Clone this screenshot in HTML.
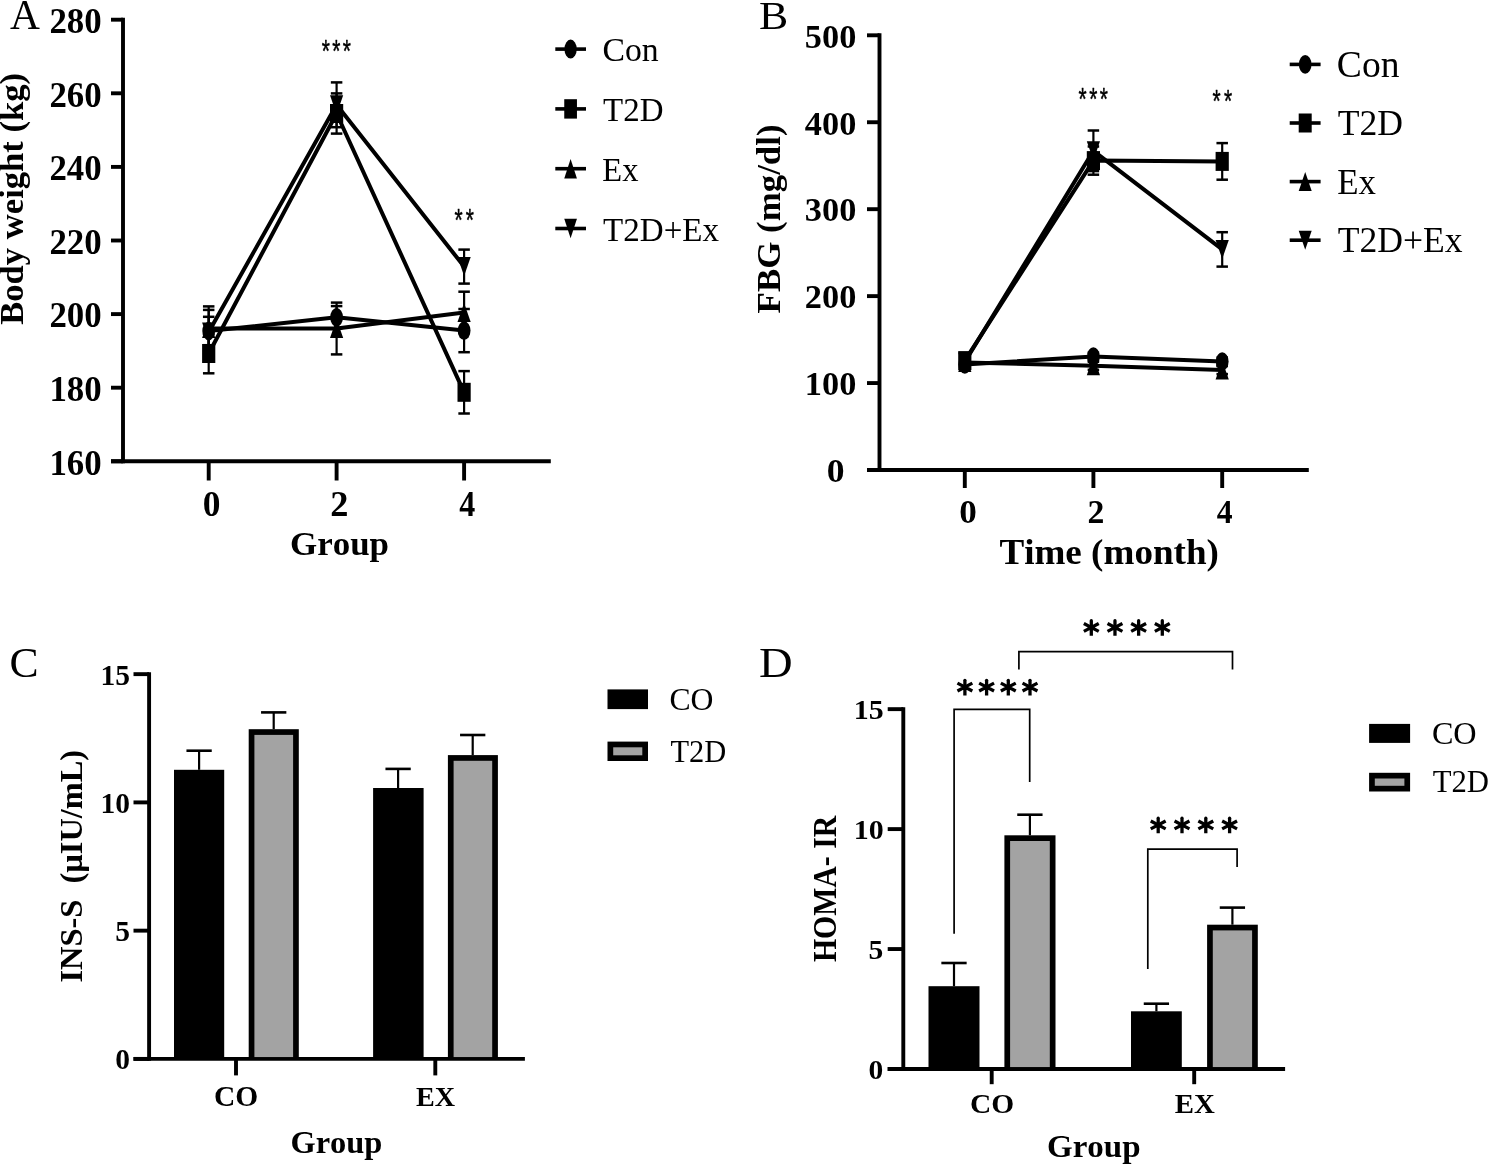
<!DOCTYPE html><html><head><meta charset="utf-8"><style>html,body{margin:0;padding:0;background:#fff;}svg{display:block;will-change:transform;}text{font-family:"Liberation Serif",serif;fill:#000;font-kerning:none;}</style></head><body>
<svg width="1489" height="1164" viewBox="0 0 1489 1164">
<rect width="1489" height="1164" fill="#fff"/>
<line x1="123.00" y1="17.75" x2="123.00" y2="463.25" stroke="#000" stroke-width="3.9" stroke-linecap="butt"/>
<line x1="111.00" y1="461.30" x2="123.00" y2="461.30" stroke="#000" stroke-width="3.9" stroke-linecap="butt"/>
<text x="101.60" y="474.50" font-size="34.8" font-weight="bold" text-anchor="end" >160</text>
<line x1="111.00" y1="387.70" x2="123.00" y2="387.70" stroke="#000" stroke-width="3.9" stroke-linecap="butt"/>
<text x="101.60" y="400.90" font-size="34.8" font-weight="bold" text-anchor="end" >180</text>
<line x1="111.00" y1="314.10" x2="123.00" y2="314.10" stroke="#000" stroke-width="3.9" stroke-linecap="butt"/>
<text x="101.60" y="327.30" font-size="34.8" font-weight="bold" text-anchor="end" >200</text>
<line x1="111.00" y1="240.50" x2="123.00" y2="240.50" stroke="#000" stroke-width="3.9" stroke-linecap="butt"/>
<text x="101.60" y="253.70" font-size="34.8" font-weight="bold" text-anchor="end" >220</text>
<line x1="111.00" y1="166.90" x2="123.00" y2="166.90" stroke="#000" stroke-width="3.9" stroke-linecap="butt"/>
<text x="101.60" y="180.10" font-size="34.8" font-weight="bold" text-anchor="end" >240</text>
<line x1="111.00" y1="93.30" x2="123.00" y2="93.30" stroke="#000" stroke-width="3.9" stroke-linecap="butt"/>
<text x="101.60" y="106.50" font-size="34.8" font-weight="bold" text-anchor="end" >260</text>
<line x1="111.00" y1="19.70" x2="123.00" y2="19.70" stroke="#000" stroke-width="3.9" stroke-linecap="butt"/>
<text x="101.60" y="32.90" font-size="34.8" font-weight="bold" text-anchor="end" >280</text>
<line x1="111.00" y1="461.30" x2="550.80" y2="461.30" stroke="#000" stroke-width="3.9" stroke-linecap="butt"/>
<line x1="208.70" y1="461.30" x2="208.70" y2="480.50" stroke="#000" stroke-width="3.9" stroke-linecap="butt"/>
<line x1="336.60" y1="461.30" x2="336.60" y2="480.50" stroke="#000" stroke-width="3.9" stroke-linecap="butt"/>
<line x1="464.10" y1="461.30" x2="464.10" y2="480.50" stroke="#000" stroke-width="3.9" stroke-linecap="butt"/>
<text x="202.65" y="516.05" font-size="34.8" font-weight="bold" textLength="17.70" lengthAdjust="spacingAndGlyphs">0</text>
<text x="330.17" y="516.20" font-size="34.8" font-weight="bold" textLength="18.19" lengthAdjust="spacingAndGlyphs">2</text>
<text x="459.16" y="516.20" font-size="34.8" font-weight="bold" textLength="16.03" lengthAdjust="spacingAndGlyphs">4</text>
<text x="289.99" y="554.70" font-size="34" font-weight="bold" textLength="99.02" lengthAdjust="spacingAndGlyphs">Group</text>
<text x="22.80" y="324.77" font-size="34.3" font-weight="bold" textLength="251.90" lengthAdjust="spacingAndGlyphs" transform="rotate(-90 22.80 324.77)">Body weight (kg)</text>
<text x="9.90" y="28.90" font-size="43" font-weight="normal" textLength="29.91" lengthAdjust="spacingAndGlyphs">A</text>
<line x1="208.70" y1="316.80" x2="208.70" y2="345.20" stroke="#000" stroke-width="2.2" stroke-linecap="butt"/>
<line x1="202.95" y1="316.80" x2="214.45" y2="316.80" stroke="#000" stroke-width="2.5" stroke-linecap="butt"/>
<line x1="202.95" y1="345.20" x2="214.45" y2="345.20" stroke="#000" stroke-width="2.5" stroke-linecap="butt"/>
<line x1="336.60" y1="306.10" x2="336.60" y2="328.50" stroke="#000" stroke-width="2.2" stroke-linecap="butt"/>
<line x1="330.85" y1="306.10" x2="342.35" y2="306.10" stroke="#000" stroke-width="2.5" stroke-linecap="butt"/>
<line x1="330.85" y1="328.50" x2="342.35" y2="328.50" stroke="#000" stroke-width="2.5" stroke-linecap="butt"/>
<line x1="464.10" y1="309.00" x2="464.10" y2="352.20" stroke="#000" stroke-width="2.2" stroke-linecap="butt"/>
<line x1="458.35" y1="309.00" x2="469.85" y2="309.00" stroke="#000" stroke-width="2.5" stroke-linecap="butt"/>
<line x1="458.35" y1="352.20" x2="469.85" y2="352.20" stroke="#000" stroke-width="2.5" stroke-linecap="butt"/>
<line x1="208.70" y1="333.70" x2="208.70" y2="373.30" stroke="#000" stroke-width="2.2" stroke-linecap="butt"/>
<line x1="202.95" y1="333.70" x2="214.45" y2="333.70" stroke="#000" stroke-width="2.5" stroke-linecap="butt"/>
<line x1="202.95" y1="373.30" x2="214.45" y2="373.30" stroke="#000" stroke-width="2.5" stroke-linecap="butt"/>
<line x1="336.60" y1="93.40" x2="336.60" y2="133.60" stroke="#000" stroke-width="2.2" stroke-linecap="butt"/>
<line x1="330.85" y1="93.40" x2="342.35" y2="93.40" stroke="#000" stroke-width="2.5" stroke-linecap="butt"/>
<line x1="330.85" y1="133.60" x2="342.35" y2="133.60" stroke="#000" stroke-width="2.5" stroke-linecap="butt"/>
<line x1="464.10" y1="371.10" x2="464.10" y2="413.50" stroke="#000" stroke-width="2.2" stroke-linecap="butt"/>
<line x1="458.35" y1="371.10" x2="469.85" y2="371.10" stroke="#000" stroke-width="2.5" stroke-linecap="butt"/>
<line x1="458.35" y1="413.50" x2="469.85" y2="413.50" stroke="#000" stroke-width="2.5" stroke-linecap="butt"/>
<line x1="208.70" y1="306.40" x2="208.70" y2="350.60" stroke="#000" stroke-width="2.2" stroke-linecap="butt"/>
<line x1="202.95" y1="306.40" x2="214.45" y2="306.40" stroke="#000" stroke-width="2.5" stroke-linecap="butt"/>
<line x1="202.95" y1="350.60" x2="214.45" y2="350.60" stroke="#000" stroke-width="2.5" stroke-linecap="butt"/>
<line x1="336.60" y1="302.60" x2="336.60" y2="354.40" stroke="#000" stroke-width="2.2" stroke-linecap="butt"/>
<line x1="330.85" y1="302.60" x2="342.35" y2="302.60" stroke="#000" stroke-width="2.5" stroke-linecap="butt"/>
<line x1="330.85" y1="354.40" x2="342.35" y2="354.40" stroke="#000" stroke-width="2.5" stroke-linecap="butt"/>
<line x1="464.10" y1="291.70" x2="464.10" y2="333.10" stroke="#000" stroke-width="2.2" stroke-linecap="butt"/>
<line x1="458.35" y1="291.70" x2="469.85" y2="291.70" stroke="#000" stroke-width="2.5" stroke-linecap="butt"/>
<line x1="458.35" y1="333.10" x2="469.85" y2="333.10" stroke="#000" stroke-width="2.5" stroke-linecap="butt"/>
<line x1="208.70" y1="309.90" x2="208.70" y2="354.10" stroke="#000" stroke-width="2.2" stroke-linecap="butt"/>
<line x1="202.95" y1="309.90" x2="214.45" y2="309.90" stroke="#000" stroke-width="2.5" stroke-linecap="butt"/>
<line x1="202.95" y1="354.10" x2="214.45" y2="354.10" stroke="#000" stroke-width="2.5" stroke-linecap="butt"/>
<line x1="336.60" y1="82.40" x2="336.60" y2="127.20" stroke="#000" stroke-width="2.2" stroke-linecap="butt"/>
<line x1="330.85" y1="82.40" x2="342.35" y2="82.40" stroke="#000" stroke-width="2.5" stroke-linecap="butt"/>
<line x1="330.85" y1="127.20" x2="342.35" y2="127.20" stroke="#000" stroke-width="2.5" stroke-linecap="butt"/>
<line x1="464.10" y1="249.60" x2="464.10" y2="283.60" stroke="#000" stroke-width="2.2" stroke-linecap="butt"/>
<line x1="458.35" y1="249.60" x2="469.85" y2="249.60" stroke="#000" stroke-width="2.5" stroke-linecap="butt"/>
<line x1="458.35" y1="283.60" x2="469.85" y2="283.60" stroke="#000" stroke-width="2.5" stroke-linecap="butt"/>
<polyline points="208.70,331.00 336.60,317.30 464.10,330.60" fill="none" stroke="#000" stroke-width="4" stroke-linejoin="round"/>
<polyline points="208.70,353.50 336.60,113.50 464.10,392.30" fill="none" stroke="#000" stroke-width="4" stroke-linejoin="round"/>
<polyline points="208.70,328.50 336.60,328.50 464.10,312.40" fill="none" stroke="#000" stroke-width="4" stroke-linejoin="round"/>
<polyline points="208.70,332.00 336.60,104.80 464.10,266.60" fill="none" stroke="#000" stroke-width="4" stroke-linejoin="round"/>
<ellipse cx="208.70" cy="331.00" rx="6.40" ry="9.30"/>
<ellipse cx="336.60" cy="317.30" rx="6.40" ry="9.30"/>
<ellipse cx="464.10" cy="330.60" rx="6.40" ry="9.30"/>
<rect x="202.10" y="344.00" width="13.20" height="19.00"/>
<rect x="330.00" y="104.00" width="13.20" height="19.00"/>
<rect x="457.50" y="382.80" width="13.20" height="19.00"/>
<path d="M208.70 319.00L215.30 338.00L202.10 338.00Z"/>
<path d="M336.60 319.00L343.20 338.00L330.00 338.00Z"/>
<path d="M464.10 302.90L470.70 321.90L457.50 321.90Z"/>
<path d="M202.10 322.50L215.30 322.50L208.70 341.50Z"/>
<path d="M330.00 95.30L343.20 95.30L336.60 114.30Z"/>
<path d="M457.50 257.10L470.70 257.10L464.10 276.10Z"/>
<line x1="555.30" y1="49.10" x2="586.00" y2="49.10" stroke="#000" stroke-width="3.6" stroke-linecap="butt"/>
<ellipse cx="570.60" cy="49.10" rx="6.15" ry="9.50"/>
<line x1="555.30" y1="108.90" x2="586.00" y2="108.90" stroke="#000" stroke-width="3.6" stroke-linecap="butt"/>
<rect x="564.25" y="99.20" width="12.70" height="19.40"/>
<line x1="555.30" y1="168.70" x2="586.00" y2="168.70" stroke="#000" stroke-width="3.6" stroke-linecap="butt"/>
<path d="M570.60 159.00L576.95 178.40L564.25 178.40Z"/>
<line x1="555.30" y1="228.50" x2="586.00" y2="228.50" stroke="#000" stroke-width="3.6" stroke-linecap="butt"/>
<path d="M564.25 218.80L576.95 218.80L570.60 238.20Z"/>
<text x="602.41" y="61.00" font-size="34.4" font-weight="normal" textLength="56.30" lengthAdjust="spacingAndGlyphs">Con</text>
<text x="603.10" y="121.30" font-size="34.4" font-weight="normal" textLength="60.42" lengthAdjust="spacingAndGlyphs">T2D</text>
<text x="602.36" y="181.00" font-size="34.4" font-weight="normal" textLength="36.13" lengthAdjust="spacingAndGlyphs">Ex</text>
<text x="603.10" y="241.20" font-size="34.4" font-weight="normal" textLength="115.90" lengthAdjust="spacingAndGlyphs">T2D+Ex</text>
<line x1="879.50" y1="33.35" x2="879.50" y2="471.95" stroke="#000" stroke-width="3.9" stroke-linecap="butt"/>
<line x1="867.00" y1="470.00" x2="879.50" y2="470.00" stroke="#000" stroke-width="3.9" stroke-linecap="butt"/>
<line x1="867.00" y1="383.06" x2="879.50" y2="383.06" stroke="#000" stroke-width="3.9" stroke-linecap="butt"/>
<text x="856.30" y="395.36" font-size="34.3" font-weight="bold" text-anchor="end" >100</text>
<line x1="867.00" y1="296.12" x2="879.50" y2="296.12" stroke="#000" stroke-width="3.9" stroke-linecap="butt"/>
<text x="856.30" y="308.42" font-size="34.3" font-weight="bold" text-anchor="end" >200</text>
<line x1="867.00" y1="209.18" x2="879.50" y2="209.18" stroke="#000" stroke-width="3.9" stroke-linecap="butt"/>
<text x="856.30" y="221.48" font-size="34.3" font-weight="bold" text-anchor="end" >300</text>
<line x1="867.00" y1="122.24" x2="879.50" y2="122.24" stroke="#000" stroke-width="3.9" stroke-linecap="butt"/>
<text x="856.30" y="134.54" font-size="34.3" font-weight="bold" text-anchor="end" >400</text>
<line x1="867.00" y1="35.30" x2="879.50" y2="35.30" stroke="#000" stroke-width="3.9" stroke-linecap="butt"/>
<text x="856.30" y="47.60" font-size="34.3" font-weight="bold" text-anchor="end" >500</text>
<text x="826.84" y="482.30" font-size="34.3" font-weight="bold" textLength="17.81" lengthAdjust="spacingAndGlyphs">0</text>
<line x1="867.00" y1="470.00" x2="1308.80" y2="470.00" stroke="#000" stroke-width="3.9" stroke-linecap="butt"/>
<line x1="964.80" y1="470.00" x2="964.80" y2="488.00" stroke="#000" stroke-width="3.9" stroke-linecap="butt"/>
<line x1="1093.40" y1="470.00" x2="1093.40" y2="488.00" stroke="#000" stroke-width="3.9" stroke-linecap="butt"/>
<line x1="1222.20" y1="470.00" x2="1222.20" y2="488.00" stroke="#000" stroke-width="3.9" stroke-linecap="butt"/>
<text x="959.36" y="523.15" font-size="34.3" font-weight="bold" textLength="17.58" lengthAdjust="spacingAndGlyphs">0</text>
<text x="1087.38" y="522.50" font-size="34.3" font-weight="bold" textLength="16.87" lengthAdjust="spacingAndGlyphs">2</text>
<text x="1216.77" y="522.50" font-size="34.3" font-weight="bold" textLength="15.82" lengthAdjust="spacingAndGlyphs">4</text>
<text x="999.42" y="563.80" font-size="36.2" font-weight="bold" textLength="219.51" lengthAdjust="spacingAndGlyphs">Time (month)</text>
<text x="779.80" y="313.40" font-size="34.5" font-weight="bold" textLength="188.93" lengthAdjust="spacingAndGlyphs" transform="rotate(-90 779.80 313.40)">FBG (mg/dl)</text>
<text x="759.04" y="28.60" font-size="40.6" font-weight="normal" textLength="29.20" lengthAdjust="spacingAndGlyphs">B</text>
<line x1="964.80" y1="360.50" x2="964.80" y2="368.50" stroke="#000" stroke-width="2.2" stroke-linecap="butt"/>
<line x1="959.05" y1="360.50" x2="970.55" y2="360.50" stroke="#000" stroke-width="2.5" stroke-linecap="butt"/>
<line x1="959.05" y1="368.50" x2="970.55" y2="368.50" stroke="#000" stroke-width="2.5" stroke-linecap="butt"/>
<line x1="1093.40" y1="352.60" x2="1093.40" y2="360.60" stroke="#000" stroke-width="2.2" stroke-linecap="butt"/>
<line x1="1087.65" y1="352.60" x2="1099.15" y2="352.60" stroke="#000" stroke-width="2.5" stroke-linecap="butt"/>
<line x1="1087.65" y1="360.60" x2="1099.15" y2="360.60" stroke="#000" stroke-width="2.5" stroke-linecap="butt"/>
<line x1="1222.20" y1="357.50" x2="1222.20" y2="365.50" stroke="#000" stroke-width="2.2" stroke-linecap="butt"/>
<line x1="1216.45" y1="357.50" x2="1227.95" y2="357.50" stroke="#000" stroke-width="2.5" stroke-linecap="butt"/>
<line x1="1216.45" y1="365.50" x2="1227.95" y2="365.50" stroke="#000" stroke-width="2.5" stroke-linecap="butt"/>
<line x1="964.80" y1="356.60" x2="964.80" y2="364.60" stroke="#000" stroke-width="2.2" stroke-linecap="butt"/>
<line x1="959.05" y1="356.60" x2="970.55" y2="356.60" stroke="#000" stroke-width="2.5" stroke-linecap="butt"/>
<line x1="959.05" y1="364.60" x2="970.55" y2="364.60" stroke="#000" stroke-width="2.5" stroke-linecap="butt"/>
<line x1="1093.40" y1="146.50" x2="1093.40" y2="174.70" stroke="#000" stroke-width="2.2" stroke-linecap="butt"/>
<line x1="1087.65" y1="146.50" x2="1099.15" y2="146.50" stroke="#000" stroke-width="2.5" stroke-linecap="butt"/>
<line x1="1087.65" y1="174.70" x2="1099.15" y2="174.70" stroke="#000" stroke-width="2.5" stroke-linecap="butt"/>
<line x1="1222.20" y1="143.10" x2="1222.20" y2="179.70" stroke="#000" stroke-width="2.2" stroke-linecap="butt"/>
<line x1="1216.45" y1="143.10" x2="1227.95" y2="143.10" stroke="#000" stroke-width="2.5" stroke-linecap="butt"/>
<line x1="1216.45" y1="179.70" x2="1227.95" y2="179.70" stroke="#000" stroke-width="2.5" stroke-linecap="butt"/>
<line x1="964.80" y1="358.50" x2="964.80" y2="366.50" stroke="#000" stroke-width="2.2" stroke-linecap="butt"/>
<line x1="959.05" y1="358.50" x2="970.55" y2="358.50" stroke="#000" stroke-width="2.5" stroke-linecap="butt"/>
<line x1="959.05" y1="366.50" x2="970.55" y2="366.50" stroke="#000" stroke-width="2.5" stroke-linecap="butt"/>
<line x1="1093.40" y1="361.80" x2="1093.40" y2="369.80" stroke="#000" stroke-width="2.2" stroke-linecap="butt"/>
<line x1="1087.65" y1="361.80" x2="1099.15" y2="361.80" stroke="#000" stroke-width="2.5" stroke-linecap="butt"/>
<line x1="1087.65" y1="369.80" x2="1099.15" y2="369.80" stroke="#000" stroke-width="2.5" stroke-linecap="butt"/>
<line x1="1222.20" y1="366.10" x2="1222.20" y2="374.10" stroke="#000" stroke-width="2.2" stroke-linecap="butt"/>
<line x1="1216.45" y1="366.10" x2="1227.95" y2="366.10" stroke="#000" stroke-width="2.5" stroke-linecap="butt"/>
<line x1="1216.45" y1="374.10" x2="1227.95" y2="374.10" stroke="#000" stroke-width="2.5" stroke-linecap="butt"/>
<line x1="964.80" y1="358.00" x2="964.80" y2="366.00" stroke="#000" stroke-width="2.2" stroke-linecap="butt"/>
<line x1="959.05" y1="358.00" x2="970.55" y2="358.00" stroke="#000" stroke-width="2.5" stroke-linecap="butt"/>
<line x1="959.05" y1="366.00" x2="970.55" y2="366.00" stroke="#000" stroke-width="2.5" stroke-linecap="butt"/>
<line x1="1093.40" y1="130.50" x2="1093.40" y2="171.10" stroke="#000" stroke-width="2.2" stroke-linecap="butt"/>
<line x1="1087.65" y1="130.50" x2="1099.15" y2="130.50" stroke="#000" stroke-width="2.5" stroke-linecap="butt"/>
<line x1="1087.65" y1="171.10" x2="1099.15" y2="171.10" stroke="#000" stroke-width="2.5" stroke-linecap="butt"/>
<line x1="1222.20" y1="232.20" x2="1222.20" y2="266.60" stroke="#000" stroke-width="2.2" stroke-linecap="butt"/>
<line x1="1216.45" y1="232.20" x2="1227.95" y2="232.20" stroke="#000" stroke-width="2.5" stroke-linecap="butt"/>
<line x1="1216.45" y1="266.60" x2="1227.95" y2="266.60" stroke="#000" stroke-width="2.5" stroke-linecap="butt"/>
<polyline points="964.80,364.50 1093.40,356.60 1222.20,361.50" fill="none" stroke="#000" stroke-width="4" stroke-linejoin="round"/>
<polyline points="964.80,360.60 1093.40,160.60 1222.20,161.40" fill="none" stroke="#000" stroke-width="4" stroke-linejoin="round"/>
<polyline points="964.80,362.50 1093.40,365.80 1222.20,370.10" fill="none" stroke="#000" stroke-width="4" stroke-linejoin="round"/>
<polyline points="964.80,362.00 1093.40,150.80 1222.20,249.40" fill="none" stroke="#000" stroke-width="4" stroke-linejoin="round"/>
<ellipse cx="964.80" cy="364.50" rx="6.40" ry="9.30"/>
<ellipse cx="1093.40" cy="356.60" rx="6.40" ry="9.30"/>
<ellipse cx="1222.20" cy="361.50" rx="6.40" ry="9.30"/>
<rect x="958.20" y="351.10" width="13.20" height="19.00"/>
<rect x="1086.80" y="151.10" width="13.20" height="19.00"/>
<rect x="1215.60" y="151.90" width="13.20" height="19.00"/>
<path d="M964.80 353.00L971.40 372.00L958.20 372.00Z"/>
<path d="M1093.40 356.30L1100.00 375.30L1086.80 375.30Z"/>
<path d="M1222.20 360.60L1228.80 379.60L1215.60 379.60Z"/>
<path d="M958.20 352.50L971.40 352.50L964.80 371.50Z"/>
<path d="M1086.80 141.30L1100.00 141.30L1093.40 160.30Z"/>
<path d="M1215.60 239.90L1228.80 239.90L1222.20 258.90Z"/>
<line x1="1289.70" y1="64.40" x2="1320.60" y2="64.40" stroke="#000" stroke-width="3.6" stroke-linecap="butt"/>
<ellipse cx="1305.20" cy="64.40" rx="6.30" ry="9.30"/>
<line x1="1289.70" y1="123.00" x2="1320.60" y2="123.00" stroke="#000" stroke-width="3.6" stroke-linecap="butt"/>
<rect x="1298.70" y="113.50" width="13.00" height="19.00"/>
<line x1="1289.70" y1="181.60" x2="1320.60" y2="181.60" stroke="#000" stroke-width="3.6" stroke-linecap="butt"/>
<path d="M1305.20 172.10L1311.70 191.10L1298.70 191.10Z"/>
<line x1="1289.70" y1="240.20" x2="1320.60" y2="240.20" stroke="#000" stroke-width="3.6" stroke-linecap="butt"/>
<path d="M1298.70 230.70L1311.70 230.70L1305.20 249.70Z"/>
<text x="1336.86" y="77.00" font-size="37.5" font-weight="normal" textLength="62.61" lengthAdjust="spacingAndGlyphs">Con</text>
<text x="1337.76" y="134.90" font-size="36.5" font-weight="normal" textLength="65.27" lengthAdjust="spacingAndGlyphs">T2D</text>
<text x="1337.30" y="194.30" font-size="36.5" font-weight="normal" textLength="38.73" lengthAdjust="spacingAndGlyphs">Ex</text>
<text x="1337.66" y="252.20" font-size="36.5" font-weight="normal" textLength="124.98" lengthAdjust="spacingAndGlyphs">T2D+Ex</text>
<line x1="149.10" y1="672.20" x2="149.10" y2="1060.85" stroke="#000" stroke-width="3.9" stroke-linecap="butt"/>
<line x1="133.50" y1="1058.90" x2="149.10" y2="1058.90" stroke="#000" stroke-width="3.9" stroke-linecap="butt"/>
<text x="130.12" y="1069.35" font-size="29.5" font-weight="bold" text-anchor="end" >0</text>
<line x1="133.50" y1="930.65" x2="149.10" y2="930.65" stroke="#000" stroke-width="3.9" stroke-linecap="butt"/>
<text x="130.12" y="941.10" font-size="29.5" font-weight="bold" text-anchor="end" >5</text>
<line x1="133.50" y1="802.40" x2="149.10" y2="802.40" stroke="#000" stroke-width="3.9" stroke-linecap="butt"/>
<text x="130.12" y="812.85" font-size="29.5" font-weight="bold" text-anchor="end" >10</text>
<line x1="133.50" y1="674.15" x2="149.10" y2="674.15" stroke="#000" stroke-width="3.9" stroke-linecap="butt"/>
<text x="130.12" y="684.60" font-size="29.5" font-weight="bold" text-anchor="end" >15</text>
<line x1="133.50" y1="1058.90" x2="524.90" y2="1058.90" stroke="#000" stroke-width="3.9" stroke-linecap="butt"/>
<line x1="236.00" y1="1058.90" x2="236.00" y2="1075.40" stroke="#000" stroke-width="3.9" stroke-linecap="butt"/>
<line x1="435.30" y1="1058.90" x2="435.30" y2="1075.40" stroke="#000" stroke-width="3.9" stroke-linecap="butt"/>
<text x="214.06" y="1106.20" font-size="29" font-weight="bold" textLength="44.28" lengthAdjust="spacingAndGlyphs">CO</text>
<text x="416.02" y="1105.80" font-size="28" font-weight="bold" textLength="39.11" lengthAdjust="spacingAndGlyphs">EX</text>
<text x="290.42" y="1153.00" font-size="31.4" font-weight="bold" textLength="91.90" lengthAdjust="spacingAndGlyphs">Group</text>
<text x="82.50" y="982.49" font-size="32" font-weight="bold" textLength="232.61" lengthAdjust="spacingAndGlyphs" transform="rotate(-90 82.50 982.49)">INS-S&#160; (µIU/mL)</text>
<text x="9.41" y="677.40" font-size="43" font-weight="normal" textLength="29.10" lengthAdjust="spacingAndGlyphs">C</text>
<rect x="174.00" y="769.80" width="50.20" height="289.20" fill="#000"/>
<line x1="199.10" y1="750.70" x2="199.10" y2="769.80" stroke="#000" stroke-width="2.2" stroke-linecap="butt"/>
<line x1="186.45" y1="750.70" x2="211.75" y2="750.70" stroke="#000" stroke-width="2.6" stroke-linecap="butt"/>
<rect x="248.70" y="729.20" width="50.10" height="329.80" fill="#000"/>
<rect x="254.40" y="734.90" width="38.70" height="322.15" fill="#a3a3a3"/>
<line x1="273.70" y1="712.40" x2="273.70" y2="729.20" stroke="#000" stroke-width="2.2" stroke-linecap="butt"/>
<line x1="261.05" y1="712.40" x2="286.35" y2="712.40" stroke="#000" stroke-width="2.6" stroke-linecap="butt"/>
<rect x="373.10" y="788.00" width="50.50" height="271.00" fill="#000"/>
<line x1="398.10" y1="768.90" x2="398.10" y2="788.00" stroke="#000" stroke-width="2.2" stroke-linecap="butt"/>
<line x1="385.45" y1="768.90" x2="410.75" y2="768.90" stroke="#000" stroke-width="2.6" stroke-linecap="butt"/>
<rect x="447.90" y="755.10" width="50.00" height="303.90" fill="#000"/>
<rect x="453.60" y="760.80" width="38.60" height="296.25" fill="#a3a3a3"/>
<line x1="472.70" y1="735.00" x2="472.70" y2="755.10" stroke="#000" stroke-width="2.2" stroke-linecap="butt"/>
<line x1="460.05" y1="735.00" x2="485.35" y2="735.00" stroke="#000" stroke-width="2.6" stroke-linecap="butt"/>
<rect x="607.5" y="689.4" width="40.5" height="19.7" fill="#000"/>
<rect x="610.35" y="744.45" width="34.80" height="13.70" fill="#a3a3a3" stroke="#000" stroke-width="5.7"/>
<text x="669.40" y="710.30" font-size="32" font-weight="normal" textLength="44.00" lengthAdjust="spacingAndGlyphs">CO</text>
<text x="670.45" y="761.80" font-size="31.5" font-weight="normal" textLength="55.77" lengthAdjust="spacingAndGlyphs">T2D</text>
<line x1="903.30" y1="707.20" x2="903.30" y2="1070.95" stroke="#000" stroke-width="3.9" stroke-linecap="butt"/>
<line x1="887.70" y1="1069.00" x2="903.30" y2="1069.00" stroke="#000" stroke-width="3.9" stroke-linecap="butt"/>
<line x1="887.70" y1="949.05" x2="903.30" y2="949.05" stroke="#000" stroke-width="3.9" stroke-linecap="butt"/>
<line x1="887.70" y1="829.10" x2="903.30" y2="829.10" stroke="#000" stroke-width="3.9" stroke-linecap="butt"/>
<line x1="887.70" y1="709.15" x2="903.30" y2="709.15" stroke="#000" stroke-width="3.9" stroke-linecap="butt"/>
<text x="853.81" y="719.10" font-size="27.5" font-weight="bold" textLength="29.89" lengthAdjust="spacingAndGlyphs">15</text>
<text x="853.80" y="839.00" font-size="27.5" font-weight="bold" textLength="29.94" lengthAdjust="spacingAndGlyphs">10</text>
<text x="868.42" y="959.20" font-size="27.5" font-weight="bold" textLength="14.76" lengthAdjust="spacingAndGlyphs">5</text>
<text x="868.48" y="1078.60" font-size="27.5" font-weight="bold" textLength="14.75" lengthAdjust="spacingAndGlyphs">0</text>
<line x1="887.70" y1="1069.00" x2="1285.10" y2="1069.00" stroke="#000" stroke-width="3.9" stroke-linecap="butt"/>
<line x1="991.70" y1="1069.00" x2="991.70" y2="1084.20" stroke="#000" stroke-width="3.9" stroke-linecap="butt"/>
<line x1="1194.20" y1="1069.00" x2="1194.20" y2="1084.20" stroke="#000" stroke-width="3.9" stroke-linecap="butt"/>
<text x="969.96" y="1113.20" font-size="28" font-weight="bold" textLength="44.18" lengthAdjust="spacingAndGlyphs">CO</text>
<text x="1174.71" y="1112.90" font-size="27" font-weight="bold" textLength="40.03" lengthAdjust="spacingAndGlyphs">EX</text>
<text x="1046.99" y="1157.20" font-size="31" font-weight="bold" textLength="93.65" lengthAdjust="spacingAndGlyphs">Group</text>
<text x="836.30" y="962.11" font-size="33" font-weight="bold" textLength="146.35" lengthAdjust="spacingAndGlyphs" transform="rotate(-90 836.30 962.11)">HOMA- IR</text>
<text x="758.96" y="676.90" font-size="41.7" font-weight="normal" textLength="33.60" lengthAdjust="spacingAndGlyphs">D</text>
<rect x="928.50" y="986.20" width="51.00" height="82.80" fill="#000"/>
<line x1="954.00" y1="963.00" x2="954.00" y2="986.20" stroke="#000" stroke-width="2.2" stroke-linecap="butt"/>
<line x1="941.35" y1="963.00" x2="966.65" y2="963.00" stroke="#000" stroke-width="2.6" stroke-linecap="butt"/>
<rect x="1004.40" y="835.30" width="51.10" height="233.70" fill="#000"/>
<rect x="1010.10" y="841.00" width="39.70" height="226.05" fill="#a3a3a3"/>
<line x1="1029.90" y1="814.70" x2="1029.90" y2="835.30" stroke="#000" stroke-width="2.2" stroke-linecap="butt"/>
<line x1="1017.25" y1="814.70" x2="1042.55" y2="814.70" stroke="#000" stroke-width="2.6" stroke-linecap="butt"/>
<rect x="1131.00" y="1011.30" width="50.80" height="57.70" fill="#000"/>
<line x1="1156.40" y1="1003.70" x2="1156.40" y2="1011.30" stroke="#000" stroke-width="2.2" stroke-linecap="butt"/>
<line x1="1143.75" y1="1003.70" x2="1169.05" y2="1003.70" stroke="#000" stroke-width="2.6" stroke-linecap="butt"/>
<rect x="1207.10" y="924.70" width="50.70" height="144.30" fill="#000"/>
<rect x="1212.80" y="930.40" width="39.30" height="136.65" fill="#a3a3a3"/>
<line x1="1232.40" y1="907.60" x2="1232.40" y2="924.70" stroke="#000" stroke-width="2.2" stroke-linecap="butt"/>
<line x1="1219.75" y1="907.60" x2="1245.05" y2="907.60" stroke="#000" stroke-width="2.6" stroke-linecap="butt"/>
<path d="M954.10 933.70 L954.10 709.30 L1029.70 709.30 L1029.70 782.00" fill="none" stroke="#000" stroke-width="1.7"/>
<path d="M1018.90 669.40 L1018.90 651.70 L1232.50 651.70 L1232.50 669.40" fill="none" stroke="#000" stroke-width="1.7"/>
<path d="M1147.80 969.10 L1147.80 849.10 L1237.10 849.10 L1237.10 867.00" fill="none" stroke="#000" stroke-width="1.7"/>
<path d="M957.45 683.09L972.35 691.01M957.45 691.01L972.35 683.09M964.90 687.05L964.90 695.45" stroke="#000" stroke-width="3.3" fill="none"/>
<path d="M964.90 687.05L964.90 680.30" stroke="#000" stroke-width="3.3" stroke-linecap="round" fill="none"/>
<path d="M979.15 683.09L994.05 691.01M979.15 691.01L994.05 683.09M986.60 687.05L986.60 695.45" stroke="#000" stroke-width="3.3" fill="none"/>
<path d="M986.60 687.05L986.60 680.30" stroke="#000" stroke-width="3.3" stroke-linecap="round" fill="none"/>
<path d="M1000.85 683.09L1015.75 691.01M1000.85 691.01L1015.75 683.09M1008.30 687.05L1008.30 695.45" stroke="#000" stroke-width="3.3" fill="none"/>
<path d="M1008.30 687.05L1008.30 680.30" stroke="#000" stroke-width="3.3" stroke-linecap="round" fill="none"/>
<path d="M1022.55 683.09L1037.45 691.01M1022.55 691.01L1037.45 683.09M1030.00 687.05L1030.00 695.45" stroke="#000" stroke-width="3.3" fill="none"/>
<path d="M1030.00 687.05L1030.00 680.30" stroke="#000" stroke-width="3.3" stroke-linecap="round" fill="none"/>
<path d="M1083.85 623.44L1098.75 631.36M1083.85 631.36L1098.75 623.44M1091.30 627.40L1091.30 635.80" stroke="#000" stroke-width="3.3" fill="none"/>
<path d="M1091.30 627.40L1091.30 620.65" stroke="#000" stroke-width="3.3" stroke-linecap="round" fill="none"/>
<path d="M1107.52 623.44L1122.42 631.36M1107.52 631.36L1122.42 623.44M1114.97 627.40L1114.97 635.80" stroke="#000" stroke-width="3.3" fill="none"/>
<path d="M1114.97 627.40L1114.97 620.65" stroke="#000" stroke-width="3.3" stroke-linecap="round" fill="none"/>
<path d="M1131.18 623.44L1146.08 631.36M1131.18 631.36L1146.08 623.44M1138.63 627.40L1138.63 635.80" stroke="#000" stroke-width="3.3" fill="none"/>
<path d="M1138.63 627.40L1138.63 620.65" stroke="#000" stroke-width="3.3" stroke-linecap="round" fill="none"/>
<path d="M1154.85 623.44L1169.75 631.36M1154.85 631.36L1169.75 623.44M1162.30 627.40L1162.30 635.80" stroke="#000" stroke-width="3.3" fill="none"/>
<path d="M1162.30 627.40L1162.30 620.65" stroke="#000" stroke-width="3.3" stroke-linecap="round" fill="none"/>
<path d="M1150.75 820.99L1165.65 828.91M1150.75 828.91L1165.65 820.99M1158.20 824.95L1158.20 833.35" stroke="#000" stroke-width="3.3" fill="none"/>
<path d="M1158.20 824.95L1158.20 818.20" stroke="#000" stroke-width="3.3" stroke-linecap="round" fill="none"/>
<path d="M1174.55 820.99L1189.45 828.91M1174.55 828.91L1189.45 820.99M1182.00 824.95L1182.00 833.35" stroke="#000" stroke-width="3.3" fill="none"/>
<path d="M1182.00 824.95L1182.00 818.20" stroke="#000" stroke-width="3.3" stroke-linecap="round" fill="none"/>
<path d="M1198.35 820.99L1213.25 828.91M1198.35 828.91L1213.25 820.99M1205.80 824.95L1205.80 833.35" stroke="#000" stroke-width="3.3" fill="none"/>
<path d="M1205.80 824.95L1205.80 818.20" stroke="#000" stroke-width="3.3" stroke-linecap="round" fill="none"/>
<path d="M1222.15 820.99L1237.05 828.91M1222.15 828.91L1237.05 820.99M1229.60 824.95L1229.60 833.35" stroke="#000" stroke-width="3.3" fill="none"/>
<path d="M1229.60 824.95L1229.60 818.20" stroke="#000" stroke-width="3.3" stroke-linecap="round" fill="none"/>
<rect x="1369.1" y="723.9" width="41.0" height="19.0" fill="#000"/>
<rect x="1371.95" y="775.65" width="35.30" height="13.00" fill="#a3a3a3" stroke="#000" stroke-width="5.7"/>
<text x="1431.88" y="743.50" font-size="32" font-weight="normal" textLength="44.74" lengthAdjust="spacingAndGlyphs">CO</text>
<text x="1432.65" y="791.90" font-size="30.5" font-weight="normal" textLength="56.27" lengthAdjust="spacingAndGlyphs">T2D</text>
<text x="0" y="0" font-size="31.0" style="font-family:&quot;Liberation Sans&quot;,sans-serif" stroke="#000" stroke-width="0.5" stroke-linejoin="round" transform="translate(321.76 62.47) scale(0.676 1.002)">*</text>
<text x="0" y="0" font-size="31.0" style="font-family:&quot;Liberation Sans&quot;,sans-serif" stroke="#000" stroke-width="0.5" stroke-linejoin="round" transform="translate(332.21 62.47) scale(0.676 1.002)">*</text>
<text x="0" y="0" font-size="31.0" style="font-family:&quot;Liberation Sans&quot;,sans-serif" stroke="#000" stroke-width="0.5" stroke-linejoin="round" transform="translate(342.66 62.47) scale(0.676 1.002)">*</text>
<text x="0" y="0" font-size="31.0" style="font-family:&quot;Liberation Sans&quot;,sans-serif" stroke="#000" stroke-width="0.5" stroke-linejoin="round" transform="translate(454.56 231.07) scale(0.676 0.983)">*</text>
<text x="0" y="0" font-size="31.0" style="font-family:&quot;Liberation Sans&quot;,sans-serif" stroke="#000" stroke-width="0.5" stroke-linejoin="round" transform="translate(465.76 231.07) scale(0.676 0.983)">*</text>
<text x="0" y="0" font-size="31.0" style="font-family:&quot;Liberation Sans&quot;,sans-serif" stroke="#000" stroke-width="0.5" stroke-linejoin="round" transform="translate(1078.56 110.15) scale(0.676 1.029)">*</text>
<text x="0" y="0" font-size="31.0" style="font-family:&quot;Liberation Sans&quot;,sans-serif" stroke="#000" stroke-width="0.5" stroke-linejoin="round" transform="translate(1089.21 110.15) scale(0.676 1.029)">*</text>
<text x="0" y="0" font-size="31.0" style="font-family:&quot;Liberation Sans&quot;,sans-serif" stroke="#000" stroke-width="0.5" stroke-linejoin="round" transform="translate(1099.86 110.15) scale(0.676 1.029)">*</text>
<text x="0" y="0" font-size="31.0" style="font-family:&quot;Liberation Sans&quot;,sans-serif" stroke="#000" stroke-width="0.5" stroke-linejoin="round" transform="translate(1212.56 112.45) scale(0.676 1.029)">*</text>
<text x="0" y="0" font-size="31.0" style="font-family:&quot;Liberation Sans&quot;,sans-serif" stroke="#000" stroke-width="0.5" stroke-linejoin="round" transform="translate(1224.06 112.45) scale(0.676 1.029)">*</text>
</svg></body></html>
